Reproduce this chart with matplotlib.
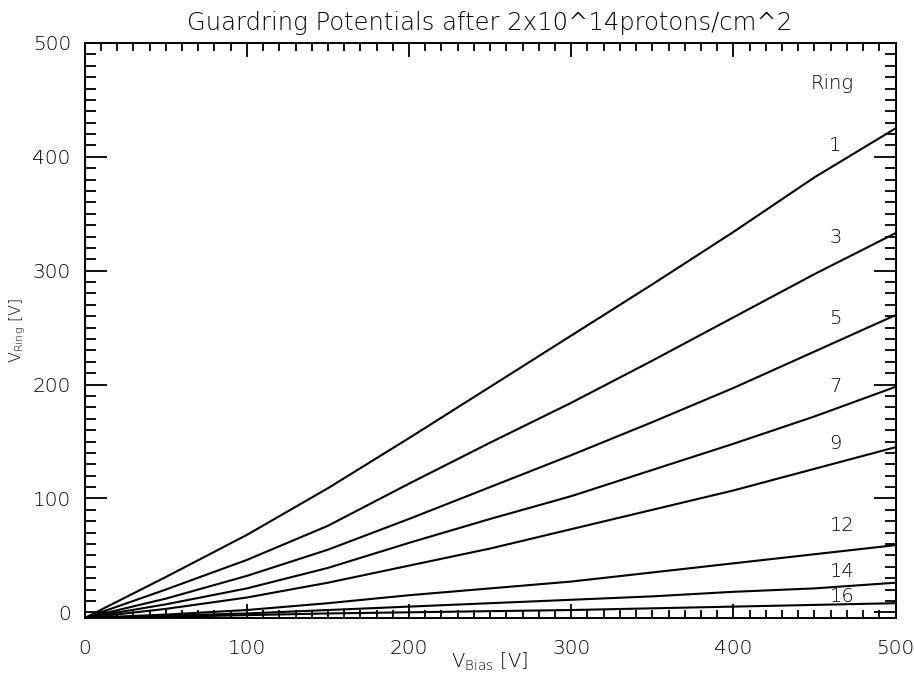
import numpy as np
import matplotlib
matplotlib.use("Agg")
import matplotlib.pyplot as plt
from matplotlib.ticker import MultipleLocator

# bias voltage steps [V]
v_bias = [0, 50, 100, 150, 200, 250, 300, 350, 400, 450, 500]

# measured guardring potentials [V]
ring_1 = [-5, 31, 68, 109, 153, 198, 243, 288, 334, 382, 425]
ring_3 = [-5, 20, 46, 76, 113, 149, 184, 221, 259, 297, 333]
ring_5 = [-5, 12, 32, 55, 82, 110, 138, 167, 197, 229, 261]
ring_7 = [-5, 7, 21, 39, 61, 82, 102, 125, 148, 172, 198]
ring_9 = [-5, 3, 13, 26, 41, 56, 73, 90, 107, 126, 145]
ring_12 = [-5, -2, 2, 8, 15, 21, 27, 35, 43, 51, 59]
ring_14 = [-5, -3, -1, 2, 5, 8, 11, 14, 18, 21, 26]
ring_16 = [-5, -4, -2.5, -1, 0, 1, 2, 3.5, 5, 6.5, 8]

rings = [ring_1, ring_3, ring_5, ring_7, ring_9, ring_12, ring_14, ring_16]
ring_names = ['1', '3', '5', '7', '9', '12', '14', '16']
label_x = [463, 463, 463, 463, 463, 467, 467, 467]
label_y = [410, 329, 258, 198, 148, 76, 36, 14]

plt.rcParams['font.family'] = ['DejaVu Sans']
plt.rcParams['font.weight'] = 'light'
plt.rcParams['mathtext.default'] = 'regular'
txtcol = 'black'

fig = plt.figure(figsize=(9.14, 6.78), dpi=100)
ax = fig.add_axes([0.0927, 0.0885, 0.8871, 0.8481])

for r in rings:
    ax.plot(v_bias, r, color='black', lw=1.5)

for name, xx, yy in zip(ring_names, label_x, label_y):
    ax.text(xx, yy, name, ha='center', va='center', fontsize=14,
            color=txtcol)
ax.text(461, 464, 'Ring', ha='center', va='center', fontsize=14,
        color=txtcol)

ax.set_xlim(0, 500)
ax.set_ylim(-5, 500)
ax.xaxis.set_major_locator(MultipleLocator(100))
ax.xaxis.set_minor_locator(MultipleLocator(10))
ax.yaxis.set_major_locator(MultipleLocator(100))
ax.yaxis.set_minor_locator(MultipleLocator(10))

ax.tick_params(axis='both', which='both', direction='in',
               top=True, right=True, width=1.3, colors='black',
               labelcolor=txtcol, labelsize=14.5)
ax.tick_params(axis='x', which='major', length=10, pad=15)
ax.tick_params(axis='x', which='minor', length=6)
ax.tick_params(axis='y', which='major', length=16, pad=10)
ax.tick_params(axis='y', which='minor', length=8)
for s in ax.spines.values():
    s.set_linewidth(1.4)

fig.text(0.536, 1 - 662 / 678, r'V$_{Bias}$ [V]', ha='center',
         va='center', fontsize=14, color=txtcol)
fig.text(18 / 914, 0.5 + (339 - 330) / 678, r'V$_{Ring}$ [V]',
         ha='center', va='center', rotation=90, fontsize=11.5, color=txtcol)
fig.text(0.536, 1 - 30 / 678,
         'Guardring Potentials after 2x10^14protons/cm^2',
         ha='center', va='baseline', fontsize=17.5, color=txtcol)

plt.savefig('out.png', dpi=100)
